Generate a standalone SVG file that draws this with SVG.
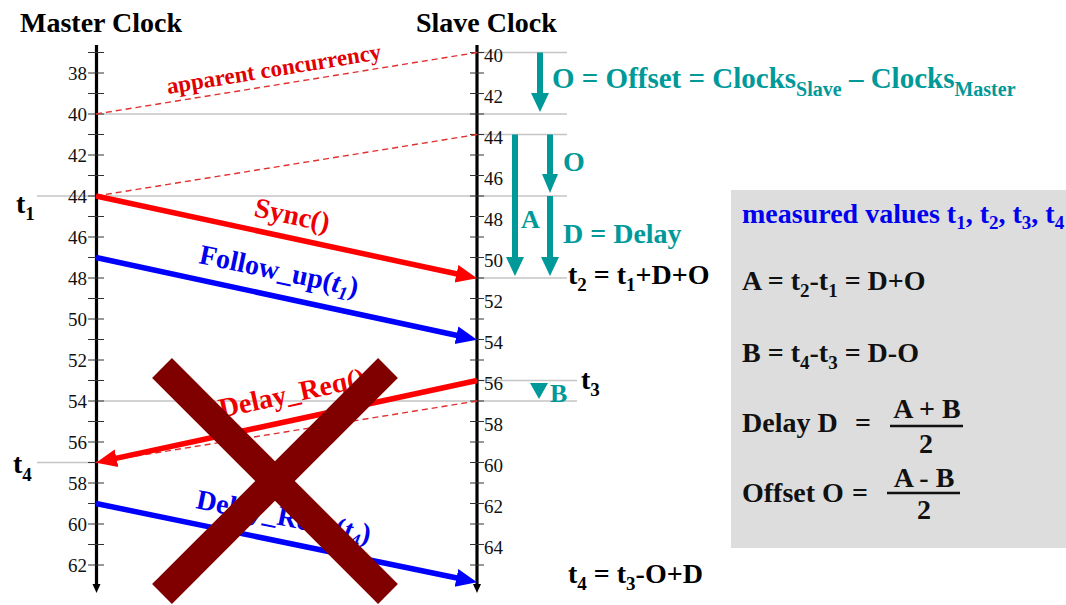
<svg xmlns="http://www.w3.org/2000/svg" width="1066" height="605" viewBox="0 0 1066 605">
<style>
.t{font-family:"Liberation Serif","Times New Roman",serif;font-weight:bold}
.n{font-family:"Liberation Serif","Times New Roman",serif;font-size:19px;fill:#111}
.grid{stroke:#c4c4c4;stroke-width:1.3}
.tick{stroke:#333;stroke-width:1}
.dash{stroke:#e03030;stroke-width:1.4;stroke-dasharray:6 4;fill:none}
.teal{fill:#009999}
</style>
<defs>
<marker id="hr" markerUnits="userSpaceOnUse" markerWidth="22" markerHeight="20" refX="8" refY="10" orient="auto"><path d="M0,1 L21,10 L0,19 z" fill="#ff0000"/></marker>
<marker id="hb" markerUnits="userSpaceOnUse" markerWidth="22" markerHeight="20" refX="8" refY="10" orient="auto"><path d="M0,1 L21,10 L0,19 z" fill="#0000ff"/></marker>
<marker id="hk" markerUnits="userSpaceOnUse" markerWidth="10" markerHeight="10" refX="2" refY="5" orient="auto"><path d="M0,1 L9,5 L0,9 z" fill="#000"/></marker>
</defs>
<rect width="1066" height="605" fill="#fff"/>

<g id="gridlines">
<line class="grid" x1="96" y1="114" x2="567" y2="114"/>
<line class="grid" x1="37" y1="196" x2="567" y2="196"/>
<line class="grid" x1="96" y1="401" x2="577" y2="401"/>
<line class="grid" x1="37" y1="462.5" x2="96" y2="462.5"/>
<line class="grid" x1="477" y1="52.5" x2="567" y2="52.5"/>
<line class="grid" x1="470" y1="134.5" x2="567" y2="134.5"/>
<line class="grid" x1="473" y1="278" x2="567" y2="278"/>
<line class="grid" x1="477" y1="380.5" x2="577" y2="380.5"/>
</g>

<g id="info-box">
<rect x="731" y="190" width="335" height="358" fill="#dddddd"/>
<text class="t" x="742" y="223" font-size="28" fill="#0000ee">measured values t<tspan font-size="19" dy="6">1</tspan><tspan dy="-6">, t</tspan><tspan font-size="19" dy="6">2</tspan><tspan dy="-6">, t</tspan><tspan font-size="19" dy="6">3</tspan><tspan dy="-6">, t</tspan><tspan font-size="19" dy="6">4</tspan></text>
<text class="t" x="742" y="290" font-size="28" fill="#111">A = t<tspan font-size="19" dy="7">2</tspan><tspan dy="-7">-t</tspan><tspan font-size="19" dy="7">1</tspan><tspan dy="-7"> = D+O</tspan></text>
<text class="t" x="742" y="362" font-size="28" fill="#111">B = t<tspan font-size="19" dy="7">4</tspan><tspan dy="-7">-t</tspan><tspan font-size="19" dy="7">3</tspan><tspan dy="-7"> = D-O</tspan></text>
<text class="t" x="742" y="432" font-size="28" fill="#111">Delay D</text>
<text class="t" x="855" y="432" font-size="28" fill="#111">=</text>
<text class="t" x="927" y="418" font-size="28" fill="#111" text-anchor="middle">A + B</text>
<line x1="890" y1="426" x2="963" y2="426" stroke="#111" stroke-width="2.5"/>
<text class="t" x="926" y="453" font-size="28" fill="#111" text-anchor="middle">2</text>
<text class="t" x="742" y="502" font-size="28" fill="#111">Offset O</text>
<text class="t" x="852" y="502" font-size="28" fill="#111">=</text>
<text class="t" x="924" y="487" font-size="28" fill="#111" text-anchor="middle">A - B</text>
<line x1="887" y1="493" x2="960" y2="493" stroke="#111" stroke-width="2.5"/>
<text class="t" x="924" y="519" font-size="28" fill="#111" text-anchor="middle">2</text>
</g>

<g id="master-clock">
<text class="t" x="20" y="32" font-size="28" fill="#000">Master Clock</text>
<line x1="96.5" y1="45" x2="96.5" y2="586" stroke="#000" stroke-width="3.2" marker-end="url(#hk)"/>
<g class="tick">
<line x1="88" y1="52.5" x2="104" y2="52.5"/><line x1="88" y1="73" x2="104" y2="73"/><line x1="88" y1="93.5" x2="104" y2="93.5"/><line x1="88" y1="114" x2="104" y2="114"/><line x1="88" y1="134.5" x2="104" y2="134.5"/><line x1="88" y1="155" x2="104" y2="155"/><line x1="88" y1="175.5" x2="104" y2="175.5"/><line x1="88" y1="196" x2="104" y2="196"/><line x1="88" y1="216.5" x2="104" y2="216.5"/><line x1="88" y1="237" x2="104" y2="237"/><line x1="88" y1="257.5" x2="104" y2="257.5"/><line x1="88" y1="278" x2="104" y2="278"/><line x1="88" y1="298.5" x2="104" y2="298.5"/><line x1="88" y1="319" x2="104" y2="319"/><line x1="88" y1="339.5" x2="104" y2="339.5"/><line x1="88" y1="360" x2="104" y2="360"/><line x1="88" y1="380.5" x2="104" y2="380.5"/><line x1="88" y1="401" x2="104" y2="401"/><line x1="88" y1="421.5" x2="104" y2="421.5"/><line x1="88" y1="442" x2="104" y2="442"/><line x1="88" y1="462.5" x2="104" y2="462.5"/><line x1="88" y1="483" x2="104" y2="483"/><line x1="88" y1="503.5" x2="104" y2="503.5"/><line x1="88" y1="524" x2="104" y2="524"/><line x1="88" y1="544.5" x2="104" y2="544.5"/><line x1="88" y1="565" x2="104" y2="565"/>
</g>
<g class="n" text-anchor="end">
<text x="87" y="80">38</text><text x="87" y="121">40</text><text x="87" y="162">42</text><text x="87" y="203">44</text><text x="87" y="244">46</text><text x="87" y="285">48</text><text x="87" y="326">50</text><text x="87" y="367">52</text><text x="87" y="408">54</text><text x="87" y="449">56</text><text x="87" y="490">58</text><text x="87" y="531">60</text><text x="87" y="572">62</text>
</g>
<text class="t" x="16" y="213" font-size="28" fill="#000">t<tspan font-size="19" dy="7">1</tspan></text>
<text class="t" x="13" y="473" font-size="28" fill="#000">t<tspan font-size="19" dy="8">4</tspan></text>
</g>

<g id="slave-clock">
<text class="t" x="416" y="32" font-size="28" fill="#000">Slave Clock</text>
<line x1="477" y1="45" x2="477" y2="586" stroke="#000" stroke-width="3.2" marker-end="url(#hk)"/>
<g class="tick">
<line x1="470" y1="52.5" x2="484" y2="52.5"/><line x1="470" y1="73" x2="484" y2="73"/><line x1="470" y1="93.5" x2="484" y2="93.5"/><line x1="470" y1="114" x2="484" y2="114"/><line x1="470" y1="134.5" x2="484" y2="134.5"/><line x1="470" y1="155" x2="484" y2="155"/><line x1="470" y1="175.5" x2="484" y2="175.5"/><line x1="470" y1="196" x2="484" y2="196"/><line x1="470" y1="216.5" x2="484" y2="216.5"/><line x1="470" y1="237" x2="484" y2="237"/><line x1="470" y1="257.5" x2="484" y2="257.5"/><line x1="470" y1="278" x2="484" y2="278"/><line x1="470" y1="298.5" x2="484" y2="298.5"/><line x1="470" y1="319" x2="484" y2="319"/><line x1="470" y1="339.5" x2="484" y2="339.5"/><line x1="470" y1="360" x2="484" y2="360"/><line x1="470" y1="380.5" x2="484" y2="380.5"/><line x1="470" y1="401" x2="484" y2="401"/><line x1="470" y1="421.5" x2="484" y2="421.5"/><line x1="470" y1="442" x2="484" y2="442"/><line x1="470" y1="462.5" x2="484" y2="462.5"/><line x1="470" y1="483" x2="484" y2="483"/><line x1="470" y1="503.5" x2="484" y2="503.5"/><line x1="470" y1="524" x2="484" y2="524"/><line x1="470" y1="544.5" x2="484" y2="544.5"/><line x1="470" y1="565" x2="484" y2="565"/>
</g>
<g class="n">
<text x="484" y="61.5">40</text><text x="484" y="102.5">42</text><text x="484" y="143.5">44</text><text x="484" y="184.5">46</text><text x="484" y="225.5">48</text><text x="484" y="266.5">50</text><text x="484" y="307.5">52</text><text x="484" y="348.5">54</text><text x="484" y="389.5">56</text><text x="484" y="430.5">58</text><text x="484" y="471.5">60</text><text x="484" y="512.5">62</text><text x="484" y="553.5">64</text>
</g>
<text class="t" x="568" y="284" font-size="28" fill="#000">t<tspan font-size="19" dy="7">2</tspan><tspan dy="-7"> = t</tspan><tspan font-size="19" dy="7">1</tspan><tspan dy="-7">+D+O</tspan></text>
<text class="t" x="581" y="389" font-size="28" fill="#000">t<tspan font-size="19" dy="7">3</tspan></text>
<text class="t" x="568" y="583" font-size="28" fill="#000">t<tspan font-size="19" dy="7">4</tspan><tspan dy="-7"> = t</tspan><tspan font-size="19" dy="7">3</tspan><tspan dy="-7">-O+D</tspan></text>
</g>

<g id="offset-annotations">
<rect class="teal" x="537" y="52.5" width="6" height="42"/>
<path class="teal" d="M531,93 L549,93 L540,112 z"/>
<text class="t" x="552" y="88" font-size="29" fill="#009999">O = Offset = Clocks<tspan font-size="20" dy="8">Slave</tspan><tspan dy="-8"> – Clocks</tspan><tspan font-size="20" dy="8">Master</tspan></text>
<rect class="teal" x="512" y="134.5" width="6" height="124"/>
<path class="teal" d="M506,257 L524,257 L515,276 z"/>
<rect class="teal" x="547" y="134.5" width="6" height="41"/>
<path class="teal" d="M542,174 L558,174 L550,193 z"/>
<rect class="teal" x="547" y="196" width="6" height="62"/>
<path class="teal" d="M541,257 L559,257 L550,276 z"/>
<path class="teal" d="M530,383 L548,383 L539,399 z"/>
<text class="t" x="563" y="171" font-size="28" fill="#009999">O</text>
<text class="t" x="521" y="228" font-size="26" fill="#009999">A</text>
<text class="t" x="563" y="243" font-size="28" fill="#009999">D = Delay</text>
<text class="t" x="550" y="402" font-size="26" fill="#009999">B</text>
</g>

<g id="connectors">
<line class="dash" x1="96" y1="114" x2="477" y2="52.5"/>
<line class="dash" x1="96" y1="196" x2="477" y2="134.5"/>
<line class="dash" x1="96" y1="462.5" x2="477" y2="401"/>
<line x1="96" y1="196" x2="464.3" y2="275.5" stroke="#ff0000" stroke-width="5.5" marker-end="url(#hr)"/>
<line x1="96" y1="257.5" x2="464.3" y2="337" stroke="#0000ff" stroke-width="5.5" marker-end="url(#hb)"/>
<line x1="477" y1="380.5" x2="108.7" y2="459.9" stroke="#ff0000" stroke-width="5.5" marker-end="url(#hr)"/>
<line x1="96" y1="503.5" x2="464.3" y2="579.5" stroke="#0000ff" stroke-width="5.5" marker-end="url(#hb)"/>
</g>

<g id="message-labels">
<text class="t" x="168" y="94" font-size="23" fill="#e00000" transform="rotate(-9.3 168 94)">apparent concurrency</text>
<text class="t" x="253" y="216" font-size="28" fill="#ee0000" transform="rotate(12.1 253 216)">Sync()</text>
<text class="t" x="198" y="263" font-size="28" fill="#0000ee" transform="rotate(11.9 198 263)">Follow_up(<tspan font-style="italic">t</tspan><tspan font-size="19" font-style="italic" dy="6">1</tspan><tspan dy="-6">)</tspan></text>
<text class="t" x="221" y="418" font-size="28" fill="#ee0000" transform="rotate(-12.3 221 418)">Delay_Req()</text>
<text class="t" x="195" y="508" font-size="28" fill="#0000ee" transform="rotate(11.4 195 508)">Delay_Resp(<tspan font-style="italic">t</tspan><tspan font-size="19" font-style="italic" dy="6">4</tspan><tspan dy="-6">)</tspan></text>
</g>

<g id="cross-out">
<line x1="162" y1="368" x2="388" y2="594" stroke="#800000" stroke-width="28"/>
<line x1="388" y1="368" x2="162" y2="594" stroke="#800000" stroke-width="28"/>
</g>
</svg>
